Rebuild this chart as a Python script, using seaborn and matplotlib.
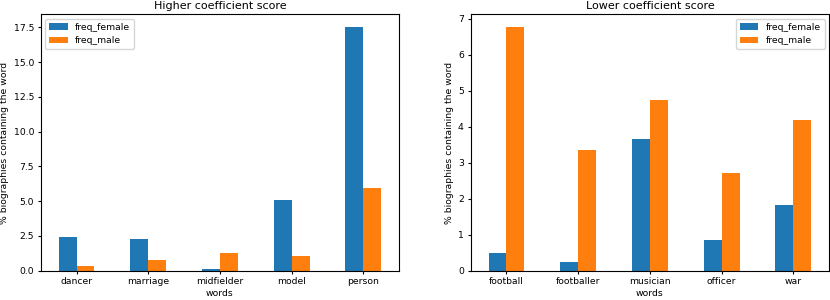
import matplotlib
matplotlib.use("Agg")
import matplotlib.pyplot as plt
import numpy as np
import pandas as pd
import seaborn as sns

### Data
high_words = ["dancer", "marriage", "midfielder", "model", "person"]
high_female = [2.42, 2.28, 0.12, 5.06, 17.55]
high_male = [0.34, 0.74, 1.29, 1.05, 5.92]

low_words = ["football", "footballer", "musician", "officer", "war"]
low_female = [0.50, 0.25, 3.65, 0.85, 1.82]
low_male = [6.78, 3.36, 4.74, 2.71, 4.18]

series = ["freq_female", "freq_male"]
colors = ["#1f77b4", "#ff7f0e"]

small = 6.7
big = 8.0


def longForm(words, female, male):
    """
    Builds a long-form table for seaborn
    """
    return pd.DataFrame({
        "words": words * 2,
        "value": female + male,
        "series": [series[0]] * len(words) + [series[1]] * len(words),
    })


def drawPanel(ax, data, title, legend_loc, ymax):
    sns.barplot(data=data, x="words", y="value", hue="series", hue_order=series,
                palette=colors, saturation=1, width=0.5, linewidth=0, ax=ax)
    ax.set_title(title, fontsize=big, pad=4)
    ax.set_xlabel("words", fontsize=small, labelpad=2)
    ax.set_ylabel("% biographies containing the word", fontsize=small, labelpad=3)
    ax.tick_params(labelsize=small, length=2.5, pad=2.3)
    ax.set_xlim(-0.5, len(data) / 2 - 0.5)
    ax.set_ylim(0, ymax)
    ax.legend(loc=legend_loc, fontsize=small, title=None)


def main():
    fig, axes = plt.subplots(1, 2, figsize=(8.3, 3.0), dpi=100)
    drawPanel(axes[0], longForm(high_words, high_female, high_male),
              "Higher coefficient score", "upper left", 18.43)
    drawPanel(axes[1], longForm(low_words, low_female, low_male),
              "Lower coefficient score", "upper right", 7.12)
    fig.subplots_adjust(left=0.049, right=0.999, top=0.952, bottom=0.098, wspace=0.199)
    fig.savefig("out.png", dpi=100)


if __name__ == '__main__':
    main()
